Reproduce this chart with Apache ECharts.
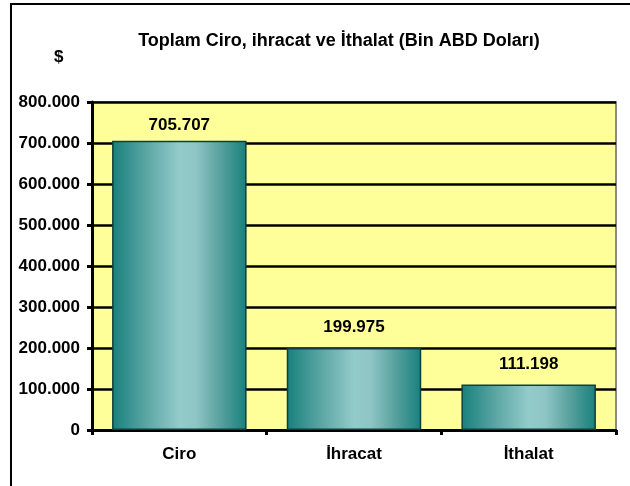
<!DOCTYPE html>
<html><head><meta charset="utf-8">
<script src="https://cdn.jsdelivr.net/npm/echarts@6/dist/echarts.min.js"></script>
<style>html,body{margin:0;padding:0;background:#fff}#c{width:630px;height:486px}</style>
</head><body><div id="c"></div>
<script>
const categories = ['Ciro', 'İhracat', 'İthalat'];
const values = [705707, 199975, 111198];
const yTicks = [0, 100000, 200000, 300000, 400000, 500000, 600000, 700000, 800000];
const titleText = 'Toplam Ciro, ihracat ve İthalat (Bin ABD Doları)';
const unitText = '$';

function fmt(v) {
  return String(v).replace(/\B(?=(\d{3})+(?!\d))/g, '.');
}
const FONT = 'Liberation Sans, Arial, sans-serif';
const barGrad = {
  type: 'linear', x: 0, y: 0, x2: 1, y2: 0,
  colorStops: [
    {offset: 0, color: '#17807c'},
    {offset: 0.25, color: '#5aa5a3'},
    {offset: 0.5, color: '#93cbca'},
    {offset: 0.62, color: '#8fc6c5'},
    {offset: 0.8, color: '#5aa29f'},
    {offset: 1, color: '#17807c'}
  ]
};
const chart = echarts.init(document.getElementById('c'));
chart.setOption({
  animation: false,
  backgroundColor: '#fff',
  title: {
    text: titleText, left: 334, top: 27, textAlign: 'center',
    textStyle: {fontFamily: FONT, fontWeight: 'bold', fontSize: 18, color: '#000'}
  },
  graphic: [
    {type: 'rect', shape: {x: 11, y: 4, width: 640, height: 500}, style: {fill: 'none', stroke: '#000', lineWidth: 2}, z: 100},
    {type: 'text', left: 54, top: 49, style: {text: unitText, font: 'bold 17px ' + FONT, fill: '#000'}}
  ],
  grid: {
    left: 92, top: 102, right: 14, bottom: 56, containLabel: false,
    show: true, backgroundColor: '#ffff99', borderColor: '#8a8a8a', borderWidth: 2
  },
  xAxis: {
    type: 'category', data: categories,
    axisLine: {lineStyle: {color: '#000', width: 3}},
    axisTick: {show: true, length: 5, lineStyle: {color: '#000', width: 3}},
    axisLabel: {margin: 16, fontFamily: FONT, fontWeight: 'bold', fontSize: 17, color: '#000'}
  },
  yAxis: {
    type: 'value', min: yTicks[0], max: yTicks[yTicks.length - 1], interval: yTicks[1] - yTicks[0],
    axisLine: {show: true, lineStyle: {color: '#000', width: 3}},
    axisTick: {show: true, length: 5, lineStyle: {color: '#000', width: 3}},
    axisLabel: {margin: 12, fontFamily: FONT, fontWeight: 'bold', fontSize: 17, color: '#000', formatter: fmt},
    splitLine: {lineStyle: {color: '#000', width: 2.5}}
  },
  series: [{
    type: 'bar',
    barWidth: '77%',
    data: values.map((v, i) => ({value: v, label: {distance: i === 0 ? 7 : 12}})),
    itemStyle: {color: barGrad, borderColor: '#0e3f3d', borderWidth: 1.5},
    label: {
      show: true, position: 'top', formatter: p => fmt(p.value),
      fontFamily: FONT, fontWeight: 'bold', fontSize: 17, color: '#000'
    }
  }]
});
</script></body></html>
